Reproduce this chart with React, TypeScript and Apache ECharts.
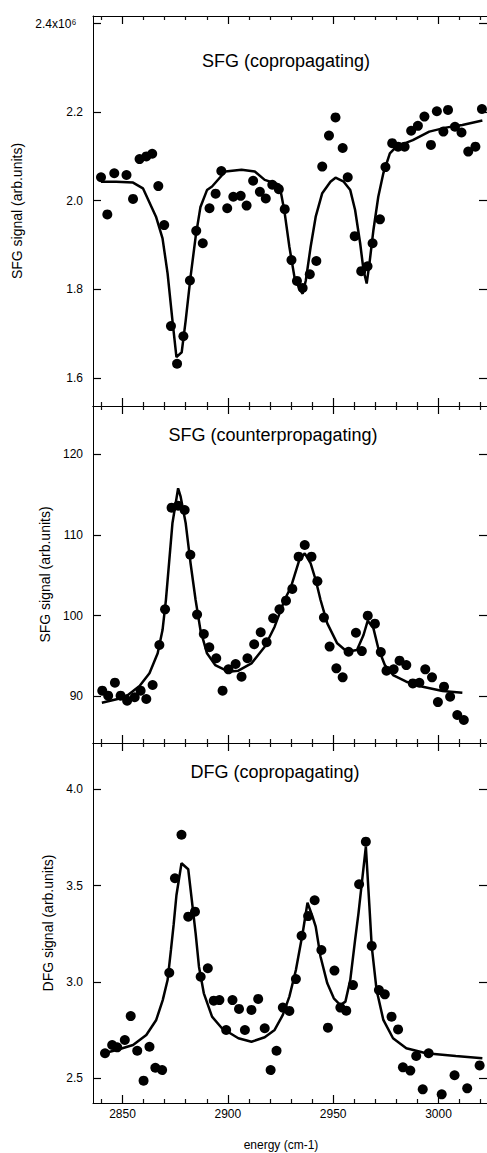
import React, { useEffect, useRef } from "react";
import * as echarts from "echarts";

// ---------- data ----------
const xMin = 2836;
const xMax = 3023;
const xMajorTicks = [2850, 2900, 2950, 3000];

const panelTitles = ["SFG (copropagating)", "SFG (counterpropagating)", "DFG (copropagating)"];
const yNames = ["SFG signal (arb.units)", "SFG signal (arb.units)", "DFG signal (arb.units)"];
const xName = "energy (cm-1)";

const yRanges = [
  [1.5366, 2.417],
  [84.22, 125.94],
  [2.372, 4.24],
];
const yMajorTicks = [
  [1.6, 1.8, 2.0, 2.2, 2.4],
  [90, 100, 110, 120],
  [2.5, 3.0, 3.5, 4.0],
];

// SFG copropagating (values in units of 10^6)
const sfgCoPoints = [
  [2839.8, 2.053], [2842.8, 1.969], [2846.1, 2.062], [2851.9, 2.058], [2855.0, 2.004],
  [2858.1, 2.094], [2861.3, 2.1], [2864.1, 2.106], [2867.0, 2.033], [2869.8, 1.945],
  [2873.0, 1.717], [2875.9, 1.632], [2878.9, 1.694], [2882.0, 1.82], [2885.0, 1.932],
  [2888.1, 1.904], [2891.3, 1.983], [2894.2, 2.016], [2896.9, 2.067], [2899.7, 1.983],
  [2902.6, 2.009], [2906.1, 2.011], [2908.9, 1.989], [2912.0, 2.045], [2915.2, 2.02],
  [2918.0, 2.005], [2921.1, 2.036], [2924.2, 2.026], [2927.0, 1.981], [2930.2, 1.866],
  [2932.8, 1.819], [2935.5, 1.803], [2938.9, 1.834], [2942.0, 1.864], [2944.8, 2.077],
  [2948.0, 2.147], [2951.1, 2.188], [2954.5, 2.119], [2956.9, 2.053], [2960.2, 1.92],
  [2963.3, 1.841], [2966.3, 1.852], [2968.7, 1.904], [2972.2, 1.958], [2974.8, 2.076],
  [2978.0, 2.13], [2980.8, 2.122], [2983.9, 2.122], [2987.0, 2.158], [2990.2, 2.169],
  [2993.3, 2.19], [2996.4, 2.126], [2999.2, 2.202], [3002.3, 2.156], [3004.5, 2.205],
  [3007.8, 2.167], [3010.9, 2.154], [3014.1, 2.111], [3017.5, 2.122], [3020.6, 2.207],
];
const sfgCoFit = [
  [2839.8, 2.043], [2847.0, 2.043], [2855.0, 2.041], [2859.7, 2.028], [2865.9, 1.964],
  [2869.0, 1.915], [2871.4, 1.836], [2873.7, 1.73], [2875.6, 1.647], [2878.1, 1.658],
  [2880.0, 1.73], [2882.3, 1.828], [2884.7, 1.918], [2887.0, 1.986], [2890.1, 2.024],
  [2892.5, 2.032], [2898.8, 2.066], [2906.5, 2.07], [2912.8, 2.066], [2917.5, 2.047],
  [2924.5, 2.036], [2926.9, 1.975], [2929.2, 1.896], [2931.6, 1.828], [2933.9, 1.802],
  [2935.5, 1.79], [2937.0, 1.82], [2939.3, 1.896], [2941.7, 1.964], [2944.8, 2.017],
  [2948.7, 2.043], [2951.1, 2.052], [2955.0, 2.043], [2958.1, 2.024], [2960.4, 1.979],
  [2962.8, 1.904], [2964.4, 1.843], [2965.9, 1.813], [2967.2, 1.858], [2969.1, 1.934],
  [2971.4, 2.009], [2973.8, 2.062], [2976.9, 2.107], [2980.0, 2.122], [2987.8, 2.137],
  [2995.6, 2.156], [3003.4, 2.165], [3011.3, 2.171], [3020.8, 2.181],
];

// SFG counterpropagating
const sfgCounterPoints = [
  [2840.4, 90.7], [2843.2, 90.08], [2846.4, 91.69], [2849.1, 90.08], [2852.2, 89.46],
  [2855.8, 89.88], [2858.6, 90.7], [2861.3, 89.67], [2864.3, 91.4], [2867.5, 96.35],
  [2870.2, 100.77], [2873.3, 113.35], [2876.4, 113.6], [2879.5, 113.07], [2882.2, 107.53],
  [2885.4, 100.12], [2888.6, 97.71], [2891.2, 96.07], [2894.5, 94.71], [2897.5, 90.7],
  [2900.3, 93.34], [2903.7, 94.0], [2906.5, 92.43], [2909.3, 94.71], [2912.5, 96.44],
  [2915.6, 97.93], [2918.4, 96.69], [2921.5, 99.66], [2924.5, 100.77], [2927.6, 101.84],
  [2930.6, 103.3], [2933.6, 107.29], [2936.5, 108.73], [2939.7, 107.29], [2942.5, 104.24],
  [2945.6, 99.75], [2948.3, 96.16], [2951.5, 93.46], [2954.5, 92.35], [2957.3, 95.52],
  [2960.8, 97.87], [2963.6, 95.6], [2966.4, 99.98], [2969.8, 98.99], [2972.6, 95.48],
  [2975.3, 93.17], [2978.7, 93.34], [2981.5, 94.41], [2984.7, 93.87], [2987.8, 91.6],
  [2990.9, 91.68], [2993.7, 93.34], [2996.9, 92.35], [2999.7, 89.29], [3002.6, 91.19],
  [3005.5, 89.95], [3008.9, 87.69], [3012.0, 87.07],
];
const sfgCounterFit = [
  [2840.2, 89.21], [2847.2, 89.63], [2852.6, 90.16], [2858.1, 91.28], [2862.8, 92.85],
  [2866.7, 95.32], [2869.0, 98.2], [2870.6, 101.92], [2873.7, 111.42], [2876.4, 115.75],
  [2877.6, 114.71], [2880.0, 111.42], [2882.3, 106.47], [2884.7, 101.92], [2887.0, 98.2],
  [2890.1, 95.32], [2894.0, 93.87], [2900.3, 93.05], [2905.0, 93.17], [2911.2, 94.08],
  [2917.5, 96.14], [2922.2, 98.62], [2926.9, 101.92], [2930.0, 103.57], [2933.9, 106.87],
  [2936.5, 107.7], [2939.3, 106.47], [2941.7, 104.4], [2944.0, 101.92], [2947.2, 99.03],
  [2951.9, 96.56], [2956.6, 95.52], [2961.3, 95.73], [2964.4, 97.59], [2966.4, 99.36],
  [2969.1, 98.41], [2971.4, 95.94], [2974.5, 93.87], [2978.4, 92.63], [2984.7, 91.81],
  [2992.5, 91.19], [3001.9, 90.65], [3011.3, 90.44],
];

// DFG copropagating
const dfgCoPoints = [
  [2841.7, 2.63], [2845.1, 2.673], [2847.5, 2.661], [2851.1, 2.699], [2853.9, 2.823],
  [2857.0, 2.643], [2860.0, 2.488], [2862.8, 2.664], [2865.6, 2.555], [2868.8, 2.543],
  [2872.2, 3.048], [2874.9, 3.538], [2878.0, 3.764], [2881.2, 3.339], [2884.4, 3.365],
  [2887.1, 3.027], [2890.5, 3.071], [2893.3, 2.903], [2896.0, 2.906], [2899.2, 2.751],
  [2902.2, 2.906], [2905.3, 2.86], [2908.1, 2.751], [2911.2, 2.855], [2914.4, 2.912],
  [2917.5, 2.76], [2920.3, 2.543], [2923.1, 2.643], [2926.1, 2.867], [2929.2, 2.85],
  [2932.3, 3.015], [2935.0, 3.24], [2938.1, 3.342], [2941.2, 3.424], [2944.4, 3.166],
  [2947.5, 2.763], [2950.6, 3.059], [2953.4, 2.867], [2956.2, 2.851], [2959.4, 2.984],
  [2962.3, 3.507], [2965.5, 3.728], [2968.3, 3.187], [2971.7, 2.958], [2974.5, 2.936],
  [2977.7, 2.82], [2980.8, 2.754], [2983.1, 2.557], [2986.6, 2.54], [2989.4, 2.616],
  [2992.5, 2.443], [2995.3, 2.63], [3001.5, 2.417], [3007.6, 2.516], [3013.6, 2.448],
  [3019.5, 2.567],
];
const dfgCoFit = [
  [2839.8, 2.626], [2847.2, 2.647], [2855.0, 2.673], [2861.3, 2.725], [2866.0, 2.803],
  [2869.1, 2.906], [2871.4, 3.01], [2873.0, 3.166], [2874.3, 3.3], [2875.6, 3.45],
  [2878.0, 3.616], [2881.2, 3.585], [2882.9, 3.425], [2884.7, 3.253], [2886.3, 3.079],
  [2888.6, 2.941], [2892.5, 2.82], [2897.2, 2.76], [2905.0, 2.708], [2911.2, 2.69],
  [2917.5, 2.713], [2922.2, 2.751], [2926.1, 2.829], [2929.2, 2.924], [2932.3, 3.062],
  [2935.5, 3.253], [2937.8, 3.411], [2940.2, 3.339], [2941.7, 3.287], [2944.0, 3.131],
  [2947.2, 2.993], [2950.3, 2.915], [2953.4, 2.88], [2955.8, 2.898], [2958.1, 3.01],
  [2960.4, 3.218], [2962.0, 3.356], [2965.5, 3.702], [2967.2, 3.391], [2968.3, 3.183],
  [2970.6, 2.958], [2973.8, 2.803], [2978.4, 2.708], [2984.7, 2.656], [2994.1, 2.63],
  [3008.2, 2.616], [3020.8, 2.604],
];

const panelPoints = [sfgCoPoints, sfgCounterPoints, dfgCoPoints];
const panelFits = [sfgCoFit, sfgCounterFit, dfgCoFit];

// ---------- layout ----------
const FONT = "'Liberation Sans', Arial, Helvetica, sans-serif";
const gridBoxes = [
  { left: 93, width: 398, top: 16, height: 390 },
  { left: 93, width: 398, top: 406, height: 337 },
  { left: 93, width: 398, top: 743, height: 360 },
];
const titlePos = [
  [286, 61],
  [273, 435],
  [275, 772],
];
const yNameGaps = [67, 36, 33];

function yFormatter(i: number) {
  return (v: number) => {
    if (i === 0) {
      if (Math.abs(v - 2.4) < 1e-6) return "2.4x10\u2076  ";
      return v.toFixed(1);
    }
    if (i === 1) return String(Math.round(v));
    return v.toFixed(1);
  };
}

export default function App() {
  const ref = useRef<HTMLDivElement>(null);

  useEffect(() => {
    if (!ref.current) return;
    const chart = echarts.init(ref.current, null, { renderer: "svg" });

    const black = "#000";
    const xAxes: any[] = [];
    const yAxes: any[] = [];
    const series: any[] = [];

    gridBoxes.forEach((_, i) => {
      const xTick = { show: true, inside: true, length: 8, customValues: xMajorTicks, lineStyle: { color: black, width: 1.2 } };
      const xMinor = { show: true, splitNumber: 5, length: 4, lineStyle: { color: "#111", width: 1.2 } };
      xAxes.push({
        type: "value",
        gridIndex: i,
        min: xMin,
        max: xMax,
        splitNumber: 4,
        position: "bottom",
        axisLine: { show: true, onZero: false, lineStyle: { color: black } },
        axisTick: xTick,
        minorTick: xMinor,
        splitLine: { show: false },
        axisLabel: {
          show: i === 2,
          customValues: xMajorTicks,
          margin: 5,
          color: black,
          fontSize: 12,
          fontFamily: FONT,
          formatter: (v: number) => String(Math.round(v)),
        },
        ...(i === 2
          ? {
              name: xName,
              nameLocation: "middle",
              nameGap: 36,
              nameTextStyle: { color: black, fontSize: 12, fontFamily: FONT, padding: [0, 18, 0, 0] },
            }
          : {}),
      });
      xAxes.push({
        type: "value",
        gridIndex: i,
        min: xMin,
        max: xMax,
        splitNumber: 4,
        position: "top",
        axisLine: { show: true, onZero: false, lineStyle: { color: black } },
        axisTick: xTick,
        minorTick: xMinor,
        splitLine: { show: false },
        axisLabel: { show: false },
      });

      const yTick = { show: true, inside: true, length: 8, customValues: yMajorTicks[i], lineStyle: { color: black, width: 1.2 } };
      yAxes.push({
        type: "value",
        gridIndex: i,
        min: yRanges[i][0],
        max: yRanges[i][1],
        splitNumber: 4,
        position: "left",
        axisLine: { show: true, onZero: false, lineStyle: { color: black } },
        axisTick: yTick,
        splitLine: { show: false },
        axisLabel: {
          show: true,
          customValues: yMajorTicks[i],
          margin: 10,
          color: black,
          fontSize: 12,
          fontFamily: FONT,
          formatter: yFormatter(i),
        },
        name: yNames[i],
        nameLocation: "middle",
        nameRotate: 90,
        nameGap: yNameGaps[i],
        nameTextStyle: { color: black, fontSize: 14, fontFamily: FONT },
      });
      yAxes.push({
        type: "value",
        gridIndex: i,
        min: yRanges[i][0],
        max: yRanges[i][1],
        splitNumber: 4,
        position: "right",
        axisLine: { show: true, onZero: false, lineStyle: { color: black } },
        axisTick: yTick,
        splitLine: { show: false },
        axisLabel: { show: false },
      });

      series.push({
        type: "line",
        xAxisIndex: 2 * i,
        yAxisIndex: 2 * i,
        data: panelFits[i],
        symbol: "none",
        lineStyle: { color: black, width: 2.5 },
      });
      series.push({
        type: "scatter",
        xAxisIndex: 2 * i,
        yAxisIndex: 2 * i,
        data: panelPoints[i],
        symbolSize: 10,
        itemStyle: { color: black, opacity: 1 },
      });
    });

    const graphics = panelTitles.map((t, i) => ({
      type: "text",
      x: titlePos[i][0],
      y: titlePos[i][1],
      style: {
        text: t,
        fill: black,
        fontSize: 18,
        fontFamily: FONT,
        textAlign: "center",
        textVerticalAlign: "middle",
      },
    }));

    chart.setOption({
      animation: false,
      grid: gridBoxes,
      xAxis: xAxes,
      yAxis: yAxes,
      series,
      graphic: graphics,
    });

    return () => chart.dispose();
  }, []);

  return <div ref={ref} style={{ position: "absolute", left: 0, top: 0, width: 487, height: 1153 }} />;
}
